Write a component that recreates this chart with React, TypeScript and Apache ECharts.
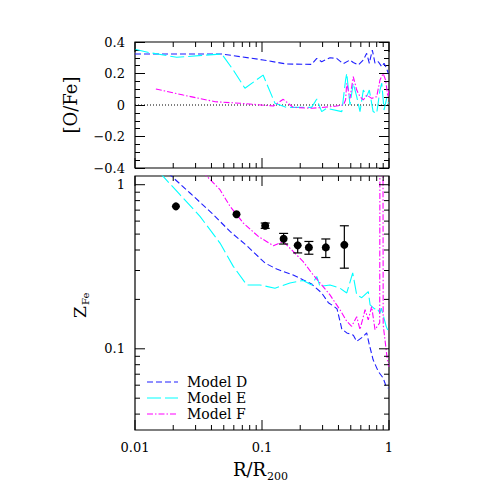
import React, { useEffect, useRef } from "react";
import * as echarts from "echarts";

// ---------- data ----------
// Top panel: [O/Fe] vs R/R200
const ofeD: number[][] = [
  [0.01, 0.324], [0.0482, 0.324], [0.102, 0.286], [0.156, 0.26], [0.246, 0.258],
  [0.27, 0.296], [0.295, 0.275], [0.343, 0.3], [0.387, 0.296], [0.437, 0.262],
  [0.493, 0.286], [0.523, 0.27], [0.573, 0.254], [0.628, 0.286], [0.667, 0.328],
  [0.7, 0.265], [0.739, 0.349], [0.776, 0.265], [0.824, 0.275], [0.877, 0.243],
  [0.914, 0.265], [0.95, 0.239], [0.987, 0.201],
];
const ofeE: number[][] = [
  [0.01, 0.354], [0.0131, 0.332], [0.0213, 0.303], [0.0482, 0.324], [0.0594, 0.222],
  [0.0734, 0.106], [0.102, 0.19], [0.1265, 0.011], [0.156, -0.015], [0.246, -0.015],
  [0.27, 0.038], [0.295, -0.042], [0.323, -0.021], [0.425, -0.042], [0.455, 0.159],
  [0.465, 0.201], [0.493, 0.0], [0.523, 0.138], [0.557, 0.053], [0.591, -0.042],
  [0.628, 0.095], [0.667, 0.053], [0.7, 0.095], [0.75, -0.042], [0.8, -0.053],
  [0.849, 0.095], [0.877, 0.138], [0.914, -0.032], [0.959, 0.043], [0.99, 0.011],
];
const ofeF: number[][] = [
  [0.0146, 0.102], [0.024, 0.063], [0.0427, 0.021], [0.0672, 0.011], [0.123, -0.006],
  [0.147, 0.036], [0.176, -0.015], [0.246, -0.021], [0.343, -0.011], [0.387, -0.006],
  [0.437, 0.0], [0.455, 0.032], [0.465, 0.138], [0.493, 0.042], [0.523, 0.18],
  [0.557, 0.095], [0.591, 0.053], [0.628, 0.032], [0.667, 0.063], [0.73, 0.042],
  [0.8, 0.053], [0.849, 0.159], [0.9, 0.2], [0.94, 0.159], [0.98, 0.053], [1.0, 0.1],
];

// Bottom panel: Z_Fe vs R/R200
const zD: number[][] = [
  [0.01, 1.8], [0.0271, 0.89], [0.0402, 0.672], [0.056, 0.519], [0.0759, 0.425],
  [0.1057, 0.333], [0.1306, 0.306], [0.176, 0.282], [0.211, 0.263], [0.246, 0.248],
  [0.295, 0.219], [0.333, 0.191], [0.37, 0.181], [0.39, 0.175], [0.425, 0.132],
  [0.465, 0.125], [0.524, 0.121], [0.557, 0.111], [0.62, 0.118], [0.667, 0.125],
  [0.7, 0.106], [0.75, 0.0857], [0.824, 0.0727], [0.9, 0.0663], [0.95, 0.0589],
  [0.99, 0.0576],
];
const zE: number[][] = [
  [0.01, 1.73], [0.0226, 0.869], [0.0325, 0.641], [0.0467, 0.441], [0.0594, 0.318],
  [0.0759, 0.245], [0.0964, 0.245], [0.1265, 0.234], [0.166, 0.252], [0.211, 0.261],
  [0.246, 0.245], [0.27, 0.276], [0.286, 0.24], [0.343, 0.245], [0.411, 0.234],
  [0.465, 0.219], [0.518, 0.29], [0.557, 0.213], [0.61, 0.205], [0.687, 0.223],
  [0.71, 0.185], [0.77, 0.175], [0.8, 0.178], [0.849, 0.165], [0.87, 0.177],
  [0.95, 0.137], [1.0, 0.125],
];
const zF: number[][] = [
  [0.015, 2.5], [0.0362, 1.14], [0.0467, 0.932], [0.056, 0.738], [0.0713, 0.584],
  [0.0935, 0.484], [0.1228, 0.425], [0.147, 0.451], [0.176, 0.392], [0.211, 0.34],
  [0.246, 0.29], [0.295, 0.245], [0.343, 0.213], [0.411, 0.173], [0.465, 0.147],
  [0.508, 0.137], [0.557, 0.157], [0.591, 0.131], [0.648, 0.173], [0.687, 0.15],
  [0.73, 0.181], [0.776, 0.131], [0.845, 0.144], [0.85, 5], [0.895, 5],
  [0.9, 0.14], [0.97, 0.086], [1.0, 0.078],
];

// Observations with error bars
const obsR = [0.021, 0.063, 0.106, 0.148, 0.191, 0.234, 0.318, 0.445];
const obsZ = [0.738, 0.66, 0.562, 0.469, 0.427, 0.415, 0.415, 0.43];
const obsLo = [0.738, 0.66, 0.542, 0.435, 0.384, 0.377, 0.36, 0.31];
const obsHi = [0.738, 0.66, 0.584, 0.505, 0.473, 0.451, 0.467, 0.562];

// Axis ranges and tick values
const X_MIN = 0.01;
const X_MAX = 1;
const OFE_MIN = -0.4;
const OFE_MAX = 0.4;
const OFE_STEP = 0.2;
const Z_MIN = 0.032;
const Z_MAX = 1.13;
const xTicks = [
  0.01, 0.02, 0.03, 0.04, 0.05, 0.06, 0.07, 0.08, 0.09,
  0.1, 0.2, 0.3, 0.4, 0.5, 0.6, 0.7, 0.8, 0.9, 1,
];
const zTicks = [0.04, 0.05, 0.06, 0.07, 0.08, 0.09, 0.1, 0.2, 0.3, 0.4, 0.5, 0.6, 0.7, 0.8, 0.9, 1];

const modelNames = ["Model D", "Model E", "Model F"];
const modelColors = ["#1f1fff", "#00ffff", "#ff00ff"];
const modelDash = [[6, 3], [14, 4], [6, 2, 1.5, 2]];

const FONT = '"DejaVu Serif", serif';

const isPow10 = (v: number) => Math.abs(Math.log10(v) - Math.round(Math.log10(v))) < 1e-6;
const fmtLog = (v: number) => {
  if (!isPow10(v)) return "";
  const e = Math.round(Math.log10(v));
  return e >= 0 ? String(Math.pow(10, e)) : Math.pow(10, e).toFixed(-e);
};
const fmtLin = (v: number) => {
  if (Math.abs(v) < 1e-9) return "0";
  return (v < 0 ? "\u2212" : "") + Math.abs(v).toFixed(1);
};

const tickStyle = { stroke: "#000", lineWidth: 1 };

export default function App() {
  const ref = useRef<HTMLDivElement>(null);
  useEffect(() => {
    if (!ref.current) return;
    const chart = echarts.init(ref.current, undefined, { renderer: "svg" });

    const lineSeries = (name: string, data: number[][], i: number, grid: number) => ({
      type: "line",
      name,
      data,
      xAxisIndex: grid === 0 ? 0 : 1,
      yAxisIndex: grid === 0 ? 0 : 1,
      symbol: "none",
      showSymbol: false,
      clip: true,
      lineStyle: { color: modelColors[i], width: 1.1, type: modelDash[i] },
      itemStyle: { color: modelColors[i] },
      z: 3,
    });

    // legend drawn as graphic (line sample + label)
    const legendX = 147;
    const legendY = 382;
    const legendRow = 16;
    const legendGraphics: any[] = [];
    modelNames.forEach((name, i) => {
      const y = legendY + i * legendRow;
      legendGraphics.push({
        type: "line",
        shape: { x1: legendX, y1: y, x2: legendX + 31, y2: y },
        style: { stroke: modelColors[i], lineWidth: 1.1, lineDash: modelDash[i] },
      });
      legendGraphics.push({
        type: "text",
        x: legendX + 40,
        y,
        style: { text: name, font: `14px ${FONT}`, fill: "#000", align: "left", verticalAlign: "middle" },
      });
    });

    const option: any = {
      animation: false,
      backgroundColor: "#fff",
      grid: [
        { left: 135, top: 42, width: 254, height: 126, show: true, borderColor: "#000", borderWidth: 1.2, backgroundColor: "transparent" },
        { left: 135, top: 176, width: 254, height: 254, show: true, borderColor: "#000", borderWidth: 1.2, backgroundColor: "transparent" },
      ],
      xAxis: [
        {
          gridIndex: 0, type: "log", logBase: 10, min: X_MIN, max: X_MAX,
          axisLine: { show: false }, axisTick: { show: false }, axisLabel: { show: false }, splitLine: { show: false },
        },
        {
          gridIndex: 1, type: "log", logBase: 10, min: X_MIN, max: X_MAX,
          axisLine: { show: false }, axisTick: { show: false }, splitLine: { show: false },
          axisLabel: { formatter: fmtLog, fontFamily: FONT, fontSize: 13, color: "#000", margin: 11 },
        },
      ],
      yAxis: [
        {
          gridIndex: 0, type: "value", min: OFE_MIN, max: OFE_MAX, interval: OFE_STEP,
          axisLine: { show: false }, splitLine: { show: false },
          axisTick: { show: true, inside: true, length: 10, lineStyle: { color: "#000", width: 1 } },
          minorTick: { show: true, splitNumber: 4, length: 5, lineStyle: { color: "#000", width: 1 } },
          axisLabel: { formatter: fmtLin, fontFamily: FONT, fontSize: 13, color: "#000", margin: 10 },
        },
        {
          gridIndex: 1, type: "log", logBase: 10, min: Z_MIN, max: Z_MAX,
          axisLine: { show: false }, axisTick: { show: false }, splitLine: { show: false },
          axisLabel: { formatter: fmtLog, fontFamily: FONT, fontSize: 13, color: "#000", margin: 10 },
        },
        {
          gridIndex: 0, type: "value", position: "right", min: OFE_MIN, max: OFE_MAX, interval: OFE_STEP,
          axisLine: { show: false }, splitLine: { show: false }, axisLabel: { show: false },
          axisTick: { show: true, inside: true, length: 10, lineStyle: { color: "#000", width: 1 } },
          minorTick: { show: true, splitNumber: 4, length: 5, lineStyle: { color: "#000", width: 1 } },
        },
      ],
      graphic: [
        {
          type: "text", x: 70, y: 105, rotation: Math.PI / 2,
          style: { text: "[O/Fe]", font: `18px ${FONT}`, fill: "#000", align: "center", verticalAlign: "middle" },
        },
        {
          type: "group", x: 87, y: 318, rotation: Math.PI / 2,
          children: [
            { type: "text", x: 0, y: -7, style: { text: "Z", font: `17px ${FONT}`, fill: "#000", align: "left", verticalAlign: "middle" } },
            { type: "text", x: 13, y: -1.5, style: { text: "Fe", font: `10px ${FONT}`, fill: "#000", align: "left", verticalAlign: "middle" } },
          ],
        },
        { type: "text", x: 233, y: 469, style: { text: "R/R", font: `18px ${FONT}`, fill: "#000", align: "left", verticalAlign: "middle" } },
        { type: "text", x: 267, y: 476, style: { text: "200", font: `11px ${FONT}`, fill: "#000", align: "left", verticalAlign: "middle" } },
        ...legendGraphics,
      ],
      series: [
        // zero reference line
        {
          type: "line", name: "zero", data: [[X_MIN, 0], [X_MAX, 0]], xAxisIndex: 0, yAxisIndex: 0,
          symbol: "none", lineStyle: { color: "#000", width: 1, type: [1, 2] }, silent: true, z: 2,
        },
        lineSeries(modelNames[0], ofeD, 0, 0),
        lineSeries(modelNames[1], ofeE, 1, 0),
        lineSeries(modelNames[2], ofeF, 2, 0),
        lineSeries(modelNames[0], zD, 0, 1),
        lineSeries(modelNames[1], zE, 1, 1),
        lineSeries(modelNames[2], zF, 2, 1),
        // log x ticks, top panel
        {
          type: "custom", xAxisIndex: 0, yAxisIndex: 0, silent: true, clip: false, z: 5,
          data: xTicks.map((v) => [v, 0]),
          renderItem: (_p: any, api: any) => {
            const x = api.value(0);
            const L = isPow10(x) ? 10 : 5;
            const b = api.coord([x, OFE_MIN]);
            const t = api.coord([x, OFE_MAX]);
            return {
              type: "group",
              children: [
                { type: "line", shape: { x1: b[0], y1: b[1], x2: b[0], y2: b[1] - L }, style: tickStyle },
                { type: "line", shape: { x1: t[0], y1: t[1], x2: t[0], y2: t[1] + L }, style: tickStyle },
              ],
            };
          },
        },
        // log x ticks, bottom panel
        {
          type: "custom", xAxisIndex: 1, yAxisIndex: 1, silent: true, clip: false, z: 5,
          data: xTicks.map((v) => [v, 0.1]),
          renderItem: (_p: any, api: any) => {
            const x = api.value(0);
            const L = isPow10(x) ? 10 : 5;
            const b = api.coord([x, Z_MIN]);
            const t = api.coord([x, Z_MAX]);
            return {
              type: "group",
              children: [
                { type: "line", shape: { x1: b[0], y1: b[1], x2: b[0], y2: b[1] - L }, style: tickStyle },
                { type: "line", shape: { x1: t[0], y1: t[1], x2: t[0], y2: t[1] + L }, style: tickStyle },
              ],
            };
          },
        },
        // log y ticks, bottom panel
        {
          type: "custom", xAxisIndex: 1, yAxisIndex: 1, silent: true, clip: false, z: 5,
          data: zTicks.map((v) => [0.1, v]),
          renderItem: (_p: any, api: any) => {
            const y = api.value(1);
            const L = isPow10(y) ? 10 : 5;
            const l = api.coord([X_MIN, y]);
            const r = api.coord([X_MAX, y]);
            return {
              type: "group",
              children: [
                { type: "line", shape: { x1: l[0], y1: l[1], x2: l[0] + L, y2: l[1] }, style: tickStyle },
                { type: "line", shape: { x1: r[0], y1: r[1], x2: r[0] - L, y2: r[1] }, style: tickStyle },
              ],
            };
          },
        },
        // error bars
        {
          type: "custom", xAxisIndex: 1, yAxisIndex: 1, silent: true, z: 6,
          encode: { x: 0, y: 1 },
          data: obsR.map((r, i) => [r, obsZ[i], obsLo[i], obsHi[i]]),
          renderItem: (_p: any, api: any) => {
            const x = api.value(0);
            const lo = api.value(2);
            const hi = api.value(3);
            if (!(hi > lo * 1.01)) return { type: "group", children: [] };
            const a = api.coord([x, lo]);
            const b = api.coord([x, hi]);
            const w = 4.5;
            const st = { stroke: "#000", lineWidth: 1.2 };
            return {
              type: "group",
              children: [
                { type: "line", shape: { x1: a[0], y1: a[1], x2: b[0], y2: b[1] }, style: st },
                { type: "line", shape: { x1: a[0] - w, y1: a[1], x2: a[0] + w, y2: a[1] }, style: st },
                { type: "line", shape: { x1: b[0] - w, y1: b[1], x2: b[0] + w, y2: b[1] }, style: st },
              ],
            };
          },
        },
        {
          type: "scatter", name: "obs", xAxisIndex: 1, yAxisIndex: 1,
          data: obsR.map((r, i) => [r, obsZ[i]]),
          symbol: "circle", symbolSize: 8, itemStyle: { color: "#000", opacity: 1 }, silent: true, z: 7,
        },
      ],
    };
    chart.setOption(option);
    return () => chart.dispose();
  }, []);
  return (
    <div
      ref={ref}
      style={{ position: "absolute", left: 0, top: 0, width: 491, height: 491, background: "#fff" }}
    />
  );
}
